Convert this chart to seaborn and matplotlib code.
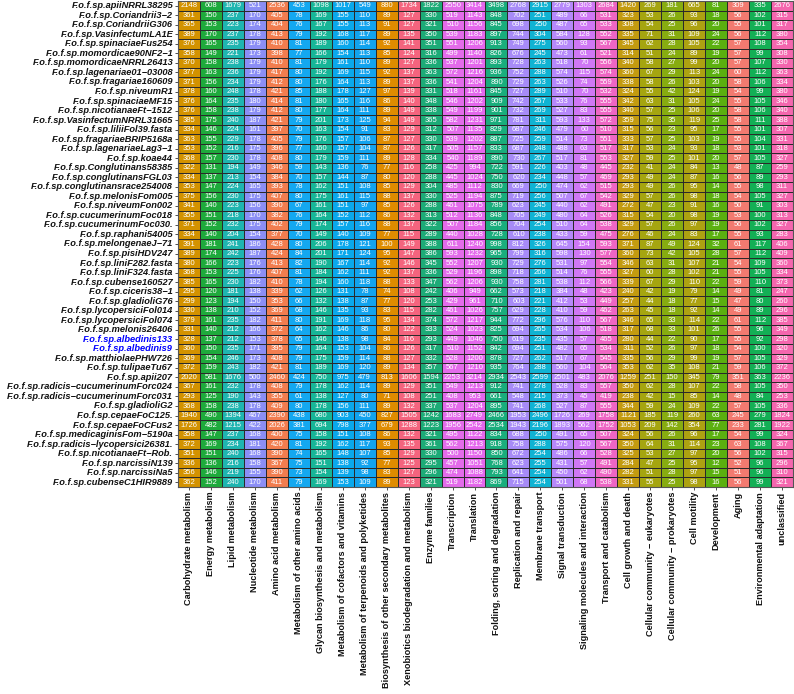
import numpy as np
import matplotlib
matplotlib.use("Agg")
import matplotlib.pyplot as plt
import seaborn as sns
from matplotlib.colors import ListedColormap

strains = [
    "F.o.f.sp.apiiNRRL38295", "F.o.f.sp.Coriandrii3\u22122", "F.o.f.sp.CoriandriiG306",
    "F.o.f.sp.VasinfectumLA1E", "F.o.f.sp.spinaciaeFus254", "F.o.f.sp.momordicae90NF2\u22121",
    "F.o.f.sp.momordicaeNRRL26413", "F.o.f.sp.lagenariae01\u221203008", "F.o.f.sp.fragariae160609",
    "F.o.f.sp.niveumR1", "F.o.f.sp.spinaciaeMF15", "F.o.f.sp.nicotianaeFt\u22121512",
    "F.o.f.sp.VasinfectumNRRL31665", "F.o.f.sp.liliiFol39.fasta", "F.o.f.sp.fragariaeBRIP5168a",
    "F.o.f.sp.lagenariaeLag3\u22121", "F.o.f.sp.koae44", "F.o.f.sp.Conglutinans58385",
    "F.o.f.sp.conglutinansFGL03", "F.o.f.sp.conglutinansrace254008", "F.o.f.sp.melonisFom005",
    "F.o.f.sp.niveumFon002", "F.o.f.sp.cucumerinumFoc018", "F.o.f.sp.cucumerinumFoc030.",
    "F.o.f.sp.raphani54005", "F.o.f.sp.melongenaeJ\u221271", "F.o.f.sp.pisiHDV247",
    "F.o.f.sp.liniF282.fasta", "F.o.f.sp.liniF324.fasta", "F.o.f.sp.cubense160527",
    "F.o.f.sp.ciceris38\u22121", "F.o.f.sp.gladioliG76", "F.o.f.sp.lycopersiciFol014",
    "F.o.f.sp.lycopersiciFol074", "F.o.f.sp.melonis26406", "F.o.f.sp.albedinis133",
    "F.o.f.sp.albedinis9", "F.o.f.sp.matthiolaePHW726", "F.o.f.sp.tulipaeTu67",
    "F.o.f.sp.apii207", "F.o.f.sp.radicis\u2212cucumerinumForc024",
    "F.o.f.sp.radicis\u2212cucumerinumForc031", "F.o.f.sp.gladioliG2", "F.o.f.sp.cepaeFoC125.",
    "F.o.f.sp.cepaeFoCFus2", "F.o.f.sp.medicaginisFom\u22125190a",
    "F.o.f.sp.radicis\u2212lycopersici26381.", "F.o.f.sp.nicotianaeFt\u2212Rob.",
    "F.o.f.sp.narcissiN139", "F.o.f.sp.narcissiNa5", "F.o.f.sp.cubenseC1HIR9889",
]
highlight = ["F.o.f.sp.albedinis133", "F.o.f.sp.albedinis9"]

pathways = [
    "Carbohydrate metabolism", "Energy metabolism", "Lipid metabolism", "Nucleotide metabolism",
    "Amino acid metabolism", "Metabolism of other amino acids", "Glycan biosynthesis and metabolism",
    "Metabolism of cofactors and vitamins", "Metabolism of terpenoids and polyketides",
    "Biosynthesis of other secondary metabolites", "Xenobiotics biodegradation and metabolism",
    "Enzyme families", "Transcription", "Translation", "Folding, sorting and degradation",
    "Replication and repair", "Membrane transport", "Signal transduction",
    "Signaling molecules and interaction", "Transport and catabolism", "Cell growth and death",
    "Cellular community \u2212 eukaryotes", "Cellular community \u2212 prokaryotes", "Cell motility",
    "Development", "Aging", "Environmental adaptation", "unclassified",
]

col_colors = [
    "#D39200", "#1EAA3C", "#1FB5B0", "#8B8EF5", "#F27D4F", "#14A8F0", "#17B597",
    "#0AA8EC", "#12A3EE", "#DF8C00", "#F4647E", "#1DAB77", "#E36BEA", "#E467EC",
    "#1AAD7C", "#A78BF7", "#10B3D3", "#B688FA", "#CF77F5", "#EE66C4", "#C39B10",
    "#A5A510", "#87AC10", "#ADA211", "#5BB010", "#F27A70", "#13AF55", "#F466AE",
]

# counts per strain (row), in pathway order
v01 = [2148, 608, 1679, 521, 2536, 453, 1098, 1017, 549, 880, 1734, 1822, 2550, 3414, 3498, 2768, 2915, 2779, 1303, 2684, 1420, 269, 181, 665, 81, 309, 335, 2676]
v02 = [361, 150, 237, 170, 405, 78, 169, 155, 110, 89, 127, 330, 519, 1143, 848, 702, 251, 489, 66, 531, 323, 53, 26, 93, 18, 56, 102, 315]
v03 = [365, 153, 223, 174, 404, 76, 167, 155, 113, 91, 127, 321, 510, 1156, 845, 698, 250, 487, 65, 533, 308, 54, 25, 96, 20, 55, 101, 317]
v04 = [389, 170, 237, 178, 413, 79, 192, 168, 117, 89, 135, 350, 539, 1183, 897, 744, 304, 584, 128, 552, 335, 71, 31, 109, 24, 56, 112, 380]
v05 = [376, 165, 235, 179, 410, 81, 189, 160, 114, 92, 141, 351, 551, 1206, 913, 749, 275, 560, 93, 567, 345, 62, 28, 105, 22, 57, 108, 354]
v06 = [358, 149, 221, 173, 398, 77, 166, 154, 113, 85, 124, 316, 499, 1140, 826, 676, 245, 473, 61, 521, 314, 51, 24, 89, 19, 57, 99, 308]
v07 = [370, 158, 238, 179, 410, 81, 179, 161, 110, 89, 127, 336, 537, 1201, 893, 728, 263, 518, 70, 556, 340, 58, 27, 99, 20, 57, 107, 330]
v08 = [377, 163, 236, 179, 417, 80, 192, 169, 115, 92, 137, 363, 572, 1216, 936, 752, 288, 574, 115, 574, 360, 67, 29, 113, 24, 60, 112, 363]
v09 = [371, 156, 234, 179, 412, 80, 176, 164, 113, 89, 137, 336, 541, 1204, 890, 729, 263, 526, 74, 559, 338, 58, 26, 103, 20, 58, 106, 334]
v10 = [378, 160, 248, 178, 421, 85, 188, 178, 127, 97, 139, 331, 518, 1161, 845, 727, 289, 510, 70, 532, 324, 55, 42, 124, 19, 54, 99, 380]
v11 = [376, 164, 235, 180, 414, 81, 180, 165, 116, 86, 140, 348, 546, 1202, 909, 742, 267, 533, 76, 555, 342, 63, 31, 105, 24, 55, 105, 346]
v12 = [376, 158, 238, 179, 412, 80, 177, 164, 111, 89, 149, 338, 549, 1199, 901, 732, 269, 527, 83, 555, 340, 57, 25, 106, 20, 58, 106, 340]
v13 = [385, 175, 240, 187, 421, 79, 201, 173, 125, 94, 149, 365, 582, 1231, 971, 781, 311, 593, 133, 572, 359, 75, 35, 119, 25, 58, 111, 388]
v14 = [334, 146, 224, 161, 397, 70, 163, 154, 91, 83, 129, 312, 507, 1135, 829, 687, 246, 479, 60, 510, 315, 56, 23, 95, 17, 55, 101, 307]
v15 = [363, 155, 229, 178, 405, 79, 176, 157, 106, 87, 127, 330, 539, 1202, 887, 725, 259, 514, 73, 551, 333, 57, 25, 103, 19, 55, 104, 331]
v16 = [353, 152, 216, 175, 396, 77, 160, 157, 104, 87, 126, 317, 505, 1157, 833, 687, 248, 488, 63, 517, 317, 53, 24, 93, 18, 53, 101, 318]
v17 = [368, 157, 230, 178, 408, 80, 179, 159, 111, 89, 128, 334, 540, 1189, 890, 730, 267, 517, 81, 553, 327, 59, 25, 101, 20, 57, 105, 327]
v18 = [322, 131, 194, 149, 346, 59, 143, 136, 76, 77, 116, 258, 425, 994, 722, 591, 226, 403, 48, 445, 232, 41, 24, 84, 13, 48, 87, 259]
v19 = [334, 137, 213, 154, 384, 70, 157, 144, 87, 80, 120, 288, 445, 1024, 750, 620, 234, 448, 57, 469, 293, 49, 24, 87, 16, 56, 89, 293]
v20 = [353, 147, 224, 165, 393, 78, 162, 151, 108, 85, 129, 304, 485, 1112, 830, 669, 250, 474, 62, 515, 293, 49, 26, 95, 14, 55, 98, 311]
v21 = [375, 156, 230, 175, 407, 80, 175, 161, 115, 88, 137, 330, 525, 1194, 875, 719, 256, 507, 67, 542, 329, 57, 26, 98, 18, 54, 105, 327]
v22 = [341, 140, 223, 156, 390, 67, 161, 151, 97, 85, 126, 288, 461, 1075, 789, 623, 245, 440, 62, 491, 272, 47, 23, 91, 16, 50, 91, 303]
v23 = [355, 151, 218, 170, 382, 76, 164, 152, 112, 86, 132, 313, 512, 1136, 848, 705, 249, 480, 64, 526, 315, 54, 20, 98, 19, 53, 100, 313]
v24 = [371, 152, 232, 175, 402, 79, 174, 157, 116, 88, 137, 322, 507, 1184, 856, 704, 254, 510, 64, 538, 329, 57, 26, 97, 19, 56, 102, 327]
v25 = [334, 140, 204, 154, 377, 70, 149, 140, 109, 77, 115, 289, 440, 1028, 728, 610, 238, 433, 59, 475, 276, 46, 24, 83, 17, 55, 93, 283]
v26 = [391, 181, 241, 186, 428, 80, 206, 178, 121, 100, 149, 388, 611, 1240, 998, 812, 326, 645, 154, 593, 371, 87, 49, 124, 32, 61, 117, 406]
v27 = [389, 174, 242, 187, 424, 84, 201, 171, 124, 95, 147, 386, 593, 1232, 965, 799, 316, 598, 130, 577, 360, 73, 42, 105, 28, 57, 112, 409]
v28 = [380, 166, 223, 176, 413, 82, 190, 167, 114, 92, 146, 345, 552, 1207, 930, 729, 276, 531, 97, 554, 346, 63, 31, 107, 21, 54, 109, 360]
v29 = [368, 153, 225, 176, 407, 81, 184, 162, 111, 92, 137, 336, 529, 1196, 898, 718, 266, 514, 76, 555, 327, 60, 28, 102, 21, 55, 105, 334]
v30 = [385, 165, 230, 182, 410, 78, 194, 160, 118, 88, 133, 347, 562, 1206, 930, 758, 281, 538, 112, 566, 339, 67, 29, 110, 22, 59, 110, 373]
v31 = [295, 120, 181, 138, 339, 62, 126, 131, 78, 74, 108, 242, 406, 949, 662, 573, 218, 384, 48, 423, 240, 42, 19, 79, 14, 49, 81, 247]
v32 = [299, 123, 194, 150, 353, 66, 132, 138, 87, 77, 120, 253, 429, 961, 710, 603, 221, 412, 53, 449, 257, 44, 18, 77, 15, 47, 80, 260]
v33 = [330, 138, 210, 152, 369, 68, 146, 135, 93, 83, 115, 282, 461, 1026, 757, 629, 228, 410, 59, 462, 263, 45, 18, 92, 14, 49, 89, 296]
v34 = [379, 161, 235, 182, 411, 80, 191, 169, 118, 95, 134, 374, 572, 1217, 944, 772, 296, 576, 110, 567, 346, 65, 33, 114, 22, 61, 112, 385]
v35 = [331, 140, 212, 166, 372, 64, 162, 146, 86, 80, 122, 333, 524, 1023, 825, 694, 265, 534, 106, 518, 317, 68, 33, 101, 26, 55, 96, 349]
v36 = [328, 137, 212, 153, 378, 65, 146, 138, 98, 84, 116, 293, 449, 1046, 750, 619, 235, 435, 57, 465, 280, 44, 22, 90, 17, 55, 92, 298]
v37 = [360, 150, 235, 171, 395, 79, 164, 153, 104, 86, 126, 317, 510, 1152, 842, 694, 251, 482, 65, 534, 311, 52, 26, 97, 18, 54, 100, 320]
v38 = [369, 154, 246, 173, 408, 79, 175, 159, 114, 88, 127, 332, 528, 1200, 878, 727, 262, 517, 67, 545, 335, 56, 29, 99, 19, 57, 105, 329]
v39 = [372, 159, 243, 182, 421, 81, 189, 169, 120, 89, 134, 357, 567, 1210, 935, 764, 288, 560, 104, 564, 353, 62, 35, 108, 21, 59, 106, 372]
v40 = [2020, 581, 1676, 500, 2460, 424, 750, 975, 479, 813, 1606, 1594, 2253, 3214, 2934, 2543, 2599, 2501, 483, 2076, 1259, 251, 150, 345, 79, 351, 363, 2236]
v41 = [367, 161, 232, 178, 408, 79, 178, 162, 114, 89, 129, 351, 549, 1213, 912, 741, 278, 528, 83, 557, 350, 62, 28, 107, 22, 58, 105, 350]
v42 = [293, 125, 190, 143, 355, 61, 138, 127, 80, 71, 108, 251, 408, 953, 661, 548, 215, 373, 45, 419, 238, 42, 15, 85, 14, 48, 84, 253]
v43 = [368, 158, 238, 178, 409, 80, 178, 156, 111, 89, 132, 337, 537, 1204, 895, 741, 268, 527, 87, 555, 344, 59, 24, 109, 22, 57, 105, 336]
v44 = [1940, 490, 1394, 467, 2390, 438, 680, 903, 450, 827, 1505, 1242, 1683, 2749, 2466, 1953, 2496, 1726, 269, 1758, 1121, 185, 119, 260, 63, 245, 279, 1824]
v45 = [1726, 482, 1215, 422, 2026, 381, 694, 798, 377, 679, 1288, 1223, 1956, 2542, 2534, 1943, 2196, 1893, 562, 1752, 1053, 209, 142, 354, 77, 233, 281, 1922]
v46 = [358, 147, 237, 168, 400, 75, 158, 151, 108, 86, 132, 321, 495, 1122, 834, 688, 250, 491, 65, 507, 324, 56, 26, 96, 17, 54, 99, 324]
v47 = [372, 169, 234, 181, 420, 81, 192, 162, 117, 93, 135, 361, 562, 1213, 918, 758, 288, 575, 120, 567, 350, 64, 31, 114, 23, 63, 108, 367]
v48 = [351, 151, 240, 168, 390, 74, 165, 148, 107, 85, 129, 330, 500, 1150, 850, 672, 254, 486, 66, 528, 325, 53, 27, 97, 20, 56, 102, 315]
v49 = [336, 136, 216, 158, 367, 75, 151, 138, 92, 77, 125, 295, 457, 1051, 768, 623, 255, 431, 57, 491, 284, 47, 25, 95, 12, 52, 96, 296]
v50 = [356, 146, 219, 155, 390, 73, 154, 139, 98, 83, 127, 296, 474, 1088, 793, 641, 254, 450, 62, 490, 282, 51, 28, 97, 15, 51, 96, 310]
v51 = [362, 152, 240, 170, 411, 79, 169, 153, 109, 89, 123, 321, 519, 1182, 869, 715, 254, 501, 68, 538, 331, 55, 25, 98, 16, 56, 99, 321]

rows = [v01, v02, v03, v04, v05, v06, v07, v08, v09, v10, v11, v12, v13, v14, v15, v16, v17,
        v18, v19, v20, v21, v22, v23, v24, v25, v26, v27, v28, v29, v30, v31, v32, v33, v34,
        v35, v36, v37, v38, v39, v40, v41, v42, v43, v44, v45, v46, v47, v48, v49, v50, v51]
counts = np.array(rows, dtype=int)
n_rows, n_cols = counts.shape

# colour index per cell = pathway index (each column has its own colour)
color_idx = np.tile(np.arange(n_cols), (n_rows, 1))

plt.rcParams["font.family"] = ["Liberation Sans", "DejaVu Sans"]

W, H = 794, 694
fig = plt.figure(figsize=(W / 100, H / 100), dpi=100)
left_px, top_px, right_px, bottom_px = 178, 1, 793, 487
ax = fig.add_axes([left_px / W, 1 - bottom_px / H, (right_px - left_px) / W, (bottom_px - top_px) / H])

sns.heatmap(
    color_idx, ax=ax, cmap=ListedColormap(col_colors), vmin=-0.5, vmax=n_cols - 0.5,
    annot=counts, fmt="d", annot_kws={"size": 5.5, "color": "white"},
    linewidths=0.6, linecolor="#2a2a2a", cbar=False,
    xticklabels=pathways, yticklabels=strains,
)

ax.tick_params(axis="both", length=2, width=0.6, pad=1.5, color="#333333")
for lab in ax.get_xticklabels():
    lab.set_rotation(90)
    lab.set_fontsize(6.6)
    lab.set_fontweight("bold")
    lab.set_color("#111111")
for lab in ax.get_yticklabels():
    lab.set_rotation(0)
    lab.set_fontsize(6.7)
    lab.set_fontweight("bold")
    lab.set_fontstyle("italic")
    lab.set_color("#0000FF" if lab.get_text() in highlight else "#111111")
    lab.set_ha("right")

for s in ax.spines.values():
    s.set_visible(True)
    s.set_color("#555555")
    s.set_linewidth(0.8)

fig.savefig("out.png", dpi=100)
